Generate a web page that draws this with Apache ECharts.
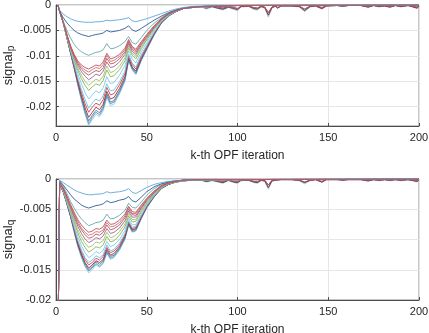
<!DOCTYPE html>
<html><head><meta charset="utf-8">
<script src="https://cdn.jsdelivr.net/npm/echarts@6/dist/echarts.min.js"></script>
<style>html,body{margin:0;padding:0;background:#fff}#c{width:429px;height:333px}</style>
</head><body><div id="c"></div>
<script>
// iteration grid for the main dip and for the tail
const K_MAIN = [1,2,4,6,8,10,12,14,16,18,20,22,24,26,28,30,32,35,38,40,42,44,47,50,54,58,62,66,70,75,80];
const K_TAIL = [83,86,89,92,95,98,100,102,106,109,111,113,115,117,119,121,122,124,130,134,137,140,143,146.5,149,155,158,161,168,172,175,178,181,184,187,190,194,199,200];
const K_END = [100,200];
const END_ZERO = [-.0001,0];
const X_TICKS = [0,50,100,150,200];

// signal_p (top panel), values at K_MAIN
const P1  = [0,-.0010,-.0018,-.0023,-.0027,-.0030,-.0032,-.0033,-.0034,-.0034,-.0034,-.0033,-.0033,-.0032,-.0030,-.0031,-.0030,-.0029,-.0027,-.0025,-.0031,-.0033,-.0030,-.0027,-.0022,-.0017,-.0012,-.0008,-.0005,-.0003,-.0002];
const P2  = [0,-.0012,-.0025,-.0035,-.0043,-.0050,-.0055,-.0058,-.0060,-.0062,-.0060,-.0058,-.0057,-.0055,-.0050,-.0053,-.0052,-.0050,-.0046,-.0041,-.0049,-.0052,-.0046,-.0039,-.0030,-.0022,-.0015,-.0010,-.0006,-.0004,-.0003];
const P3  = [0,-.0013,-.0032,-.0050,-.0065,-.0077,-.0086,-.0092,-.0096,-.0099,-.0096,-.0093,-.0092,-.0088,-.0076,-.0086,-.0085,-.0080,-.0072,-.0062,-.0074,-.0077,-.0064,-.0050,-.0036,-.0025,-.0016,-.0010,-.0006,-.0004,-.0003];
const P4  = [0,-.0012,-.0034,-.0058,-.0080,-.0097,-.0110,-.0118,-.0123,-.0126,-.0122,-.0118,-.0120,-.0112,-.0095,-.0106,-.0104,-.0097,-.0085,-.0068,-.0082,-.0087,-.0072,-.0058,-.0041,-.0027,-.0017,-.0011,-.0007,-.0004,-.0003];
const P5  = [0,-.0012,-.0034,-.0058,-.0081,-.0098,-.0112,-.0122,-.0128,-.0132,-.0127,-.0123,-.0125,-.0117,-.0099,-.0111,-.0109,-.0101,-.0088,-.0070,-.0084,-.0090,-.0074,-.0060,-.0042,-.0027,-.0017,-.0011,-.0007,-.0004,-.0003];
const P6  = [0,-.0012,-.0034,-.0059,-.0082,-.0100,-.0115,-.0126,-.0133,-.0138,-.0133,-.0129,-.0131,-.0123,-.0105,-.0116,-.0114,-.0106,-.0092,-.0073,-.0087,-.0093,-.0076,-.0061,-.0043,-.0028,-.0018,-.0011,-.0007,-.0004,-.0003];
const P7  = [0,-.0012,-.0034,-.0059,-.0083,-.0102,-.0119,-.0131,-.0140,-.0147,-.0142,-.0136,-.0139,-.0130,-.0112,-.0123,-.0121,-.0112,-.0097,-.0076,-.0091,-.0097,-.0079,-.0064,-.0045,-.0029,-.0018,-.0011,-.0007,-.0004,-.0003];
const P8  = [0,-.0012,-.0034,-.0060,-.0084,-.0105,-.0124,-.0138,-.0150,-.0158,-.0152,-.0146,-.0149,-.0140,-.0120,-.0133,-.0130,-.0120,-.0104,-.0080,-.0095,-.0101,-.0083,-.0067,-.0046,-.0030,-.0018,-.0012,-.0007,-.0004,-.0003];
const P9  = [0,-.0012,-.0034,-.0061,-.0086,-.0108,-.0128,-.0145,-.0158,-.0168,-.0161,-.0155,-.0158,-.0148,-.0128,-.0141,-.0139,-.0127,-.0110,-.0084,-.0099,-.0106,-.0086,-.0069,-.0048,-.0030,-.0019,-.0012,-.0007,-.0004,-.0003];
const P10 = [0,-.0012,-.0035,-.0062,-.0088,-.0112,-.0135,-.0155,-.0172,-.0185,-.0177,-.0169,-.0173,-.0163,-.0141,-.0155,-.0152,-.0138,-.0119,-.0090,-.0106,-.0114,-.0092,-.0074,-.0051,-.0032,-.0020,-.0012,-.0007,-.0005,-.0004];
const P11 = [0,-.0012,-.0035,-.0063,-.0090,-.0116,-.0143,-.0166,-.0186,-.0203,-.0193,-.0185,-.0189,-.0178,-.0155,-.0169,-.0167,-.0151,-.0130,-.0097,-.0114,-.0122,-.0098,-.0079,-.0054,-.0033,-.0021,-.0012,-.0007,-.0005,-.0004];
const P12 = [0,-.0012,-.0035,-.0063,-.0092,-.0119,-.0147,-.0172,-.0194,-.0211,-.0201,-.0193,-.0197,-.0186,-.0162,-.0177,-.0174,-.0157,-.0135,-.0100,-.0117,-.0126,-.0101,-.0081,-.0056,-.0034,-.0021,-.0013,-.0007,-.0005,-.0004];
const P13 = [0,-.0012,-.0035,-.0064,-.0093,-.0121,-.0151,-.0178,-.0202,-.0221,-.0211,-.0201,-.0206,-.0195,-.0170,-.0185,-.0182,-.0164,-.0141,-.0104,-.0122,-.0130,-.0105,-.0084,-.0057,-.0035,-.0021,-.0013,-.0007,-.0005,-.0004];
const P14 = [0,-.0012,-.0035,-.0064,-.0094,-.0123,-.0154,-.0182,-.0208,-.0228,-.0217,-.0207,-.0212,-.0200,-.0175,-.0191,-.0188,-.0169,-.0145,-.0107,-.0124,-.0133,-.0107,-.0086,-.0058,-.0035,-.0022,-.0013,-.0007,-.0005,-.0004];
const P15 = [0,-.0012,-.0035,-.0065,-.0094,-.0124,-.0156,-.0185,-.0211,-.0233,-.0221,-.0211,-.0216,-.0204,-.0179,-.0194,-.0191,-.0172,-.0147,-.0108,-.0126,-.0135,-.0108,-.0087,-.0059,-.0036,-.0022,-.0013,-.0007,-.0005,-.0004];
const P16 = [0,-.0012,-.0035,-.0065,-.0095,-.0125,-.0158,-.0188,-.0215,-.0237,-.0225,-.0215,-.0220,-.0208,-.0182,-.0198,-.0195,-.0175,-.0150,-.0110,-.0128,-.0137,-.0110,-.0088,-.0060,-.0036,-.0022,-.0013,-.0007,-.0005,-.0004];
// signal_p tails at K_TAIL
const P_TAIL_L    = [-.0008,-.0004,-.0007,-.0010,-.0005,-.0009,-.0011,-.0004,-.0003,-.0009,-.0010,-.0004,-.0006,-.0024,-.0006,-.0003,-.0007,-.0002,-.0002,-.0004,-.0013,-.0004,-.0002,-.0008,-.0002,-.0001,-.0003,-.0001,-.0001,-.0005,-.0001,-.0004,-.0002,-.0005,-.0001,-.0004,-.0001,-.0007,-.0002];
const P_TAIL_GRAY = [-.0006,-.0003,-.0006,-.0008,-.0004,-.0007,-.0009,-.0003,-.0002,-.0007,-.0008,-.0003,-.0005,-.0020,-.0005,-.0002,-.0006,-.0002,-.0002,-.0003,-.0011,-.0003,-.0002,-.0007,-.0002,-.0001,-.0002,-.0001,-.0001,-.0004,-.0001,-.0003,-.0002,-.0004,-.0001,-.0003,-.0001,-.0006,-.0002];
const P_TAIL_BLUE = [-.0005,-.0002,-.0004,-.0006,-.0003,-.0005,-.0007,-.0002,-.0002,-.0005,-.0006,-.0002,-.0004,-.0015,-.0004,-.0002,-.0004,-.0001,-.0001,-.0002,-.0008,-.0002,-.0001,-.0005,-.0001,-.0001,-.0002,-.0001,-.0001,-.0003,-.0001,-.0002,-.0001,-.0003,-.0001,-.0002,-.0001,-.0004,-.0001];

// signal_q (bottom panel), values at K_MAIN (first point lies below the axis)
const Q1  = [-.03,-.0002,-.0006,-.0010,-.0014,-.0018,-.0021,-.0023,-.0025,-.0026,-.0026,-.0025,-.0025,-.0024,-.0021,-.0023,-.0022,-.0021,-.0019,-.0016,-.0022,-.0024,-.0019,-.0014,-.0009,-.0006,-.0004,-.0003,-.0002,-.0001,-.0001];
const Q2  = [-.03,-.0003,-.0010,-.0018,-.0026,-.0033,-.0038,-.0043,-.0046,-.0048,-.0046,-.0044,-.0043,-.0041,-.0036,-.0039,-.0038,-.0035,-.0033,-.0029,-.0036,-.0038,-.0030,-.0021,-.0013,-.0008,-.0005,-.0003,-.0002,-.0001,-.0001];
const Q3  = [-.03,-.0004,-.0012,-.0024,-.0037,-.0048,-.0058,-.0066,-.0072,-.0077,-.0075,-.0072,-.0071,-.0068,-.0058,-.0066,-.0065,-.0060,-.0052,-.0040,-.0047,-.0048,-.0038,-.0027,-.0016,-.0009,-.0005,-.0003,-.0002,-.0001,-.0001];
const Q4  = [-.03,-.0006,-.0015,-.0028,-.0042,-.0055,-.0067,-.0076,-.0083,-.0088,-.0086,-.0082,-.0083,-.0079,-.0068,-.0075,-.0074,-.0068,-.0058,-.0045,-.0054,-.0055,-.0043,-.0032,-.0020,-.0011,-.0006,-.0004,-.0002,-.0001,-.0001];
const Q5  = [-.03,-.0006,-.0015,-.0029,-.0044,-.0057,-.0070,-.0081,-.0088,-.0093,-.0091,-.0087,-.0088,-.0084,-.0072,-.0079,-.0078,-.0072,-.0061,-.0047,-.0057,-.0057,-.0045,-.0033,-.0021,-.0011,-.0006,-.0004,-.0002,-.0001,-.0001];
const Q6  = [-.03,-.0006,-.0016,-.0030,-.0045,-.0060,-.0074,-.0084,-.0092,-.0098,-.0096,-.0091,-.0093,-.0088,-.0076,-.0084,-.0082,-.0076,-.0064,-.0050,-.0059,-.0060,-.0047,-.0034,-.0022,-.0012,-.0007,-.0004,-.0002,-.0001,-.0001];
const Q7  = [-.03,-.0007,-.0017,-.0032,-.0047,-.0063,-.0078,-.0090,-.0099,-.0105,-.0102,-.0097,-.0099,-.0094,-.0082,-.0090,-.0088,-.0081,-.0069,-.0053,-.0063,-.0063,-.0049,-.0036,-.0023,-.0012,-.0007,-.0004,-.0002,-.0001,-.0001];
const Q8  = [-.03,-.0007,-.0018,-.0033,-.0050,-.0067,-.0084,-.0096,-.0106,-.0113,-.0110,-.0104,-.0106,-.0102,-.0088,-.0097,-.0095,-.0087,-.0074,-.0057,-.0067,-.0067,-.0052,-.0038,-.0024,-.0013,-.0007,-.0004,-.0002,-.0001,-.0001];
const Q9  = [-.03,-.0007,-.0018,-.0035,-.0052,-.0071,-.0089,-.0103,-.0113,-.0121,-.0117,-.0112,-.0114,-.0109,-.0095,-.0104,-.0102,-.0093,-.0079,-.0061,-.0071,-.0070,-.0054,-.0040,-.0025,-.0014,-.0008,-.0005,-.0003,-.0002,-.0002];
const Q10 = [-.03,-.0007,-.0019,-.0037,-.0055,-.0076,-.0095,-.0110,-.0122,-.0130,-.0126,-.0120,-.0123,-.0118,-.0103,-.0112,-.0109,-.0100,-.0085,-.0065,-.0076,-.0075,-.0058,-.0042,-.0026,-.0014,-.0008,-.0005,-.0003,-.0002,-.0002];
const Q11 = [-.03,-.0008,-.0020,-.0039,-.0058,-.0080,-.0101,-.0117,-.0130,-.0138,-.0134,-.0127,-.0130,-.0125,-.0109,-.0119,-.0116,-.0106,-.0090,-.0069,-.0080,-.0078,-.0060,-.0044,-.0028,-.0015,-.0008,-.0005,-.0003,-.0002,-.0002];
const Q12 = [-.03,-.0008,-.0021,-.0039,-.0059,-.0082,-.0104,-.0120,-.0133,-.0142,-.0138,-.0131,-.0134,-.0128,-.0113,-.0122,-.0119,-.0109,-.0092,-.0071,-.0082,-.0080,-.0062,-.0045,-.0028,-.0015,-.0008,-.0005,-.0003,-.0002,-.0002];
const Q13 = [-.03,-.0008,-.0021,-.0040,-.0061,-.0084,-.0107,-.0124,-.0138,-.0147,-.0142,-.0135,-.0138,-.0133,-.0116,-.0126,-.0123,-.0112,-.0095,-.0073,-.0084,-.0082,-.0063,-.0046,-.0029,-.0015,-.0009,-.0005,-.0003,-.0002,-.0002];
const Q14 = [-.03,-.0008,-.0021,-.0041,-.0061,-.0085,-.0108,-.0126,-.0140,-.0150,-.0145,-.0137,-.0141,-.0135,-.0119,-.0128,-.0126,-.0114,-.0097,-.0074,-.0085,-.0084,-.0064,-.0047,-.0029,-.0016,-.0009,-.0005,-.0003,-.0002,-.0002];
const Q15 = [-.03,-.0008,-.0022,-.0041,-.0062,-.0087,-.0110,-.0128,-.0143,-.0152,-.0147,-.0140,-.0144,-.0138,-.0121,-.0131,-.0128,-.0116,-.0098,-.0076,-.0087,-.0085,-.0065,-.0047,-.0030,-.0016,-.0009,-.0005,-.0003,-.0002,-.0002];
const Q16 = [-.03,-.0008,-.0022,-.0042,-.0063,-.0088,-.0112,-.0130,-.0145,-.0155,-.0150,-.0142,-.0146,-.0140,-.0123,-.0133,-.0130,-.0118,-.0100,-.0077,-.0088,-.0086,-.0066,-.0048,-.0030,-.0016,-.0009,-.0005,-.0003,-.0002,-.0002];
// signal_q tails at K_TAIL
const Q_TAIL_L    = [-.0005,-.0003,-.0005,-.0007,-.0003,-.0006,-.0007,-.0003,-.0002,-.0006,-.0007,-.0003,-.0004,-.0017,-.0004,-.0002,-.0005,-.0001,-.0001,-.0003,-.0008,-.0003,-.0001,-.0006,-.0001,-.0001,-.0002,-.0001,-.0001,-.0004,-.0001,-.0003,-.0001,-.0003,-.0001,-.0003,-.0001,-.0005,-.0001];
const Q_TAIL_GRAY = [-.0004,-.0002,-.0004,-.0006,-.0002,-.0005,-.0006,-.0002,-.0002,-.0005,-.0006,-.0002,-.0003,-.0014,-.0003,-.0002,-.0004,-.0001,-.0001,-.0002,-.0006,-.0002,-.0001,-.0005,-.0001,-.0001,-.0002,-.0001,-.0001,-.0003,-.0001,-.0002,-.0001,-.0002,-.0001,-.0002,-.0001,-.0004,-.0001];
const Q_TAIL_BLUE = [-.0003,-.0002,-.0003,-.0004,-.0002,-.0004,-.0004,-.0002,-.0001,-.0004,-.0004,-.0002,-.0002,-.0010,-.0002,-.0001,-.0003,-.0001,-.0001,-.0002,-.0005,-.0002,-.0001,-.0004,-.0001,-.0001,-.0001,-.0001,-.0001,-.0002,-.0001,-.0002,-.0001,-.0002,-.0001,-.0002,-.0001,-.0003,-.0001];

// draw order, colours and tails
const SERIES = [
  {p:P16, q:Q16, color:'#86d0f5', tail:'L'},
  {p:P15, q:Q15, color:'#6f8c94', tail:'GRAY'},
  {p:P14, q:Q14, color:'#4181c2', tail:'BLUE'},
  {p:P13, q:Q13, color:'#9c2d2d', tail:'GRAY'},
  {p:P12, q:Q12, color:'#c24a4a', tail:'BLUE'},
  {p:P11, q:Q11, color:'#6ec0ee', tail:'END'},
  {p:P10, q:Q10, color:'#80cbef', tail:'END'},
  {p:P9,  q:Q9,  color:'#86b550', tail:'END'},
  {p:P8,  q:Q8,  color:'#9cc46a', tail:'END'},
  {p:P7,  q:Q7,  color:'#a0609e', tail:'END'},
  {p:P6,  q:Q6,  color:'#b4584e', tail:'END'},
  {p:P5,  q:Q5,  color:'#c9727c', tail:'END'},
  {p:P3,  q:Q3,  color:'#64a9aa', tail:'END'},
  {p:P2,  q:Q2,  color:'#2c5b97', tail:'END'},
  {p:P1,  q:Q1,  color:'#5ea6dc', tail:'END'},
  {p:P4,  q:Q4,  color:'#c2505e', tail:'END'}
];
const TAILS_P = {L:P_TAIL_L, GRAY:P_TAIL_GRAY, BLUE:P_TAIL_BLUE};
const TAILS_Q = {L:Q_TAIL_L, GRAY:Q_TAIL_GRAY, BLUE:Q_TAIL_BLUE};

function pairs(main, tailKey, tails){
  const out = K_MAIN.map((k,i)=>[k, main[i]]);
  if (tailKey === 'END') K_END.forEach((k,i)=>out.push([k, END_ZERO[i]]));
  else K_TAIL.forEach((k,i)=>out.push([k, tails[tailKey][i]]));
  return out;
}

const FONT = 'Liberation Sans';
const AX = '#4d4d4d';
function xAxis(gi){
  return {type:'value', gridIndex:gi, min:0, max:200, interval:50,
    name:'k-th OPF iteration', nameLocation:'middle', nameGap:24,
    nameTextStyle:{fontFamily:FONT, fontSize:12, color:'#262626'},
    axisLine:{show:true, onZero:false, lineStyle:{color:AX, width:1}},
    axisTick:{show:true, inside:true, length:3, lineStyle:{color:AX}},
    axisLabel:{fontFamily:FONT, fontSize:11, color:'#262626', margin:6},
    splitLine:{show:true, lineStyle:{color:'#e6e6e6', width:1}}};
}
function yAxis(gi, min, sub, gap){
  return {type:'value', gridIndex:gi, min:min, max:0,
    name:'{a|signal}{s|'+sub+'}', nameLocation:'middle', nameRotate:90, nameGap:gap, nameMoveOverlap:false,
    nameTextStyle:{fontFamily:FONT, color:'#262626', rich:{
      a:{fontFamily:FONT, fontSize:13, color:'#262626', lineHeight:14, verticalAlign:'top'},
      s:{fontFamily:FONT, fontSize:10, color:'#262626', lineHeight:10, padding:[8,0,0,0], verticalAlign:'bottom'}}},
    axisLine:{show:true, lineStyle:{color:AX, width:1}},
    axisTick:{show:true, inside:true, length:3, lineStyle:{color:AX}},
    axisLabel:{fontFamily:FONT, fontSize:11, color:'#262626', margin:5, showMinLabel: min === -0.02},
    splitLine:{show:true, lineStyle:{color:'#e6e6e6', width:1}}};
}

const series = [];
SERIES.forEach(s=>{
  series.push({type:'line', xAxisIndex:0, yAxisIndex:0, data:pairs(s.p, s.tail, TAILS_P),
    showSymbol:false, symbol:'none', lineStyle:{color:s.color, width:0.9}, itemStyle:{color:s.color}, animation:false, silent:true});
  series.push({type:'line', xAxisIndex:1, yAxisIndex:1, data:pairs(s.q, s.tail, TAILS_Q),
    showSymbol:false, symbol:'none', lineStyle:{color:s.color, width:0.9}, itemStyle:{color:s.color}, animation:false, silent:true});
});

const chart = echarts.init(document.getElementById('c'), null, {renderer:'canvas'});
chart.setOption({
  animation:false,
  backgroundColor:'#ffffff',
  grid:[
    {left:56, top:5, width:363, height:121, containLabel:false, outerBoundsMode:'none', show:true, borderColor:'#8c8c8c', borderWidth:1, backgroundColor:'transparent'},
    {left:56, top:179, width:363, height:121, containLabel:false, outerBoundsMode:'none', show:true, borderColor:'#8c8c8c', borderWidth:1, backgroundColor:'transparent'}
  ],
  xAxis:[xAxis(0), xAxis(1)],
  yAxis:[yAxis(0, -0.0238, 'p', 40), yAxis(1, -0.02, 'q', 40)],
  series: series
});
</script></body></html>
